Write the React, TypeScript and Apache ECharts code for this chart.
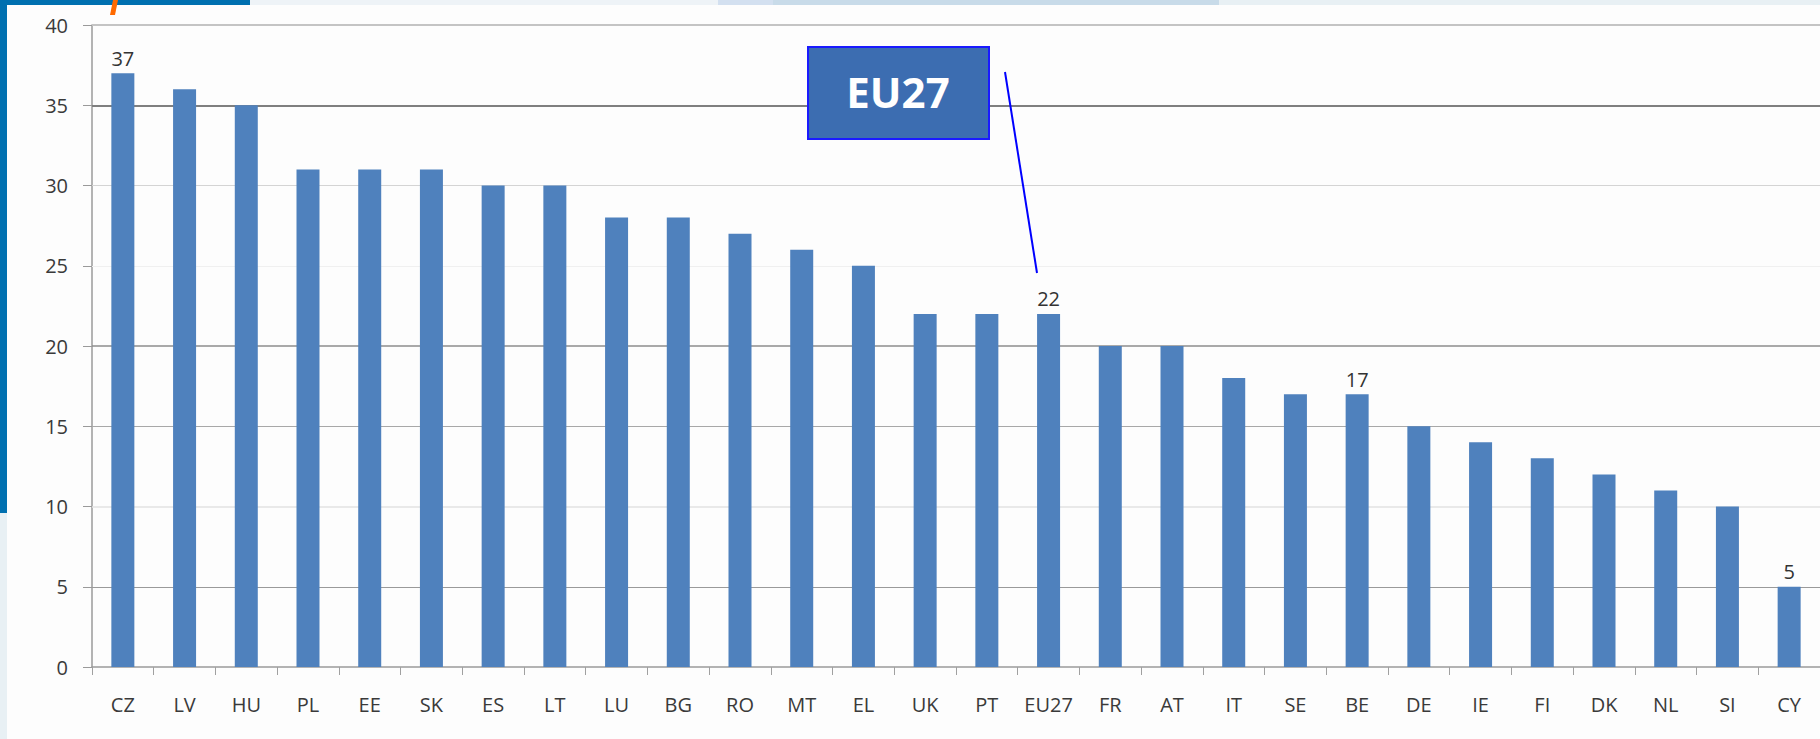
import React, { useEffect, useRef } from "react";
import * as echarts from "echarts";

const categories = ["CZ","LV","HU","PL","EE","SK","ES","LT","LU","BG","RO","MT","EL","UK","PT","EU27","FR","AT","IT","SE","BE","DE","IE","FI","DK","NL","SI","CY"];
const values = [37,36,35,31,31,31,30,30,28,28,27,26,25,22,22,22,20,20,18,17,17,15,14,13,12,11,10,5];
const labelledCategories = ["CZ","EU27","BE","CY"];
const gridValues = [5,10,15,20,25,30,35,40];
const gridColors = ["#9a9a9a","#e2e2e2","#a8a8a8","#8c8c8c","#f0f0f0","#d4d4d4","#7f7f7f","#c4c4c4"];
const gridWidths = [1,1.5,1,1.5,1,1,2,2];
const calloutText = "EU27";

const FONT = "'Open Sans', 'Noto Sans', sans-serif";

export default function App() {
  const ref = useRef<HTMLDivElement>(null);
  useEffect(() => {
    if (!ref.current) return;
    const chart = echarts.init(ref.current, null, { renderer: "svg" });
    const data = values.map((v, i) => ({
      value: v,
      label: { show: labelledCategories.includes(categories[i]) },
    }));
    chart.setOption({
      animation: false,
      backgroundColor: "#fdfdfd",
      grid: { left: 92, top: 25, width: 1730, height: 642, containLabel: false },
      xAxis: {
        type: "category",
        data: categories,
        axisLine: { lineStyle: { color: "#9a9a9a", width: 1.5 } },
        axisTick: { show: true, alignWithLabel: false, length: 8, lineStyle: { color: "#a0a0a0" } },
        axisLabel: { color: "#3a3a3a", fontSize: 20, fontFamily: FONT, margin: 27, interval: 0 },
      },
      yAxis: {
        type: "value",
        min: 0,
        max: 40,
        interval: 5,
        axisLine: { show: true, lineStyle: { color: "#9a9a9a", width: 1.5 } },
        axisTick: { show: true, length: 9, lineStyle: { color: "#9a9a9a" } },
        axisLabel: { color: "#3a3a3a", fontSize: 20, fontFamily: FONT, margin: 24 },
        splitLine: { show: false },
      },
      series: [
        {
          type: "bar",
          data,
          barWidth: 23,
          z: 3,
          itemStyle: { color: "#4f81bd" },
          label: {
            position: "top",
            distance: 5,
            color: "#333",
            fontSize: 20,
            fontFamily: FONT,
          },
          markLine: {
            silent: true,
            z: 1,
            symbol: ["none", "none"],
            label: { show: false },
            data: gridValues.map((g, i) => ({
              yAxis: g,
              lineStyle: { color: gridColors[i], width: gridWidths[i], type: "solid" },
            })),
          },
        },
      ],
      graphic: [
        { type: "rect", shape: { x: 0, y: 0, width: 250, height: 5 }, style: { fill: "#0070b0" }, z: 10 },
        { type: "rect", shape: { x: 250, y: 0, width: 468, height: 5 }, style: { fill: "#eef3f7" }, z: 10 },
        { type: "rect", shape: { x: 718, y: 0, width: 55, height: 5 }, style: { fill: "#d3e0f0" }, z: 10 },
        { type: "rect", shape: { x: 773, y: 0, width: 446, height: 5 }, style: { fill: "#c8dbe9" }, z: 10 },
        { type: "rect", shape: { x: 1219, y: 0, width: 601, height: 5 }, style: { fill: "#e8f0f4" }, z: 10 },
        { type: "rect", shape: { x: 0, y: 0, width: 7, height: 513 }, style: { fill: "#0070b0" }, z: 10 },
        { type: "rect", shape: { x: 0, y: 513, width: 7, height: 226 }, style: { fill: "#e8f0f4" }, z: 10 },
        { type: "polygon", shape: { points: [[113, 0], [118, 0], [115, 15], [110, 15]] }, style: { fill: "#ff6a00" }, z: 10 },
        { type: "line", shape: { x1: 1005, y1: 72, x2: 1037, y2: 273 }, style: { stroke: "#0000ff", lineWidth: 2 }, z: 10 },
        { type: "rect", shape: { x: 808, y: 47, width: 181, height: 92 }, style: { fill: "#3c6db1", stroke: "#1a1aff", lineWidth: 2 }, z: 11 },
        {
          type: "text",
          x: 898,
          y: 91,
          z: 12,
          style: {
            text: calloutText,
            fill: "#ffffff",
            font: `bold 42px ${FONT}`,
            align: "center",
            verticalAlign: "middle",
          },
        },
      ],
    });
    return () => chart.dispose();
  }, []);
  return (
    <div
      ref={ref}
      style={{ position: "fixed", left: 0, top: 0, width: 1820, height: 739 }}
    />
  );
}
